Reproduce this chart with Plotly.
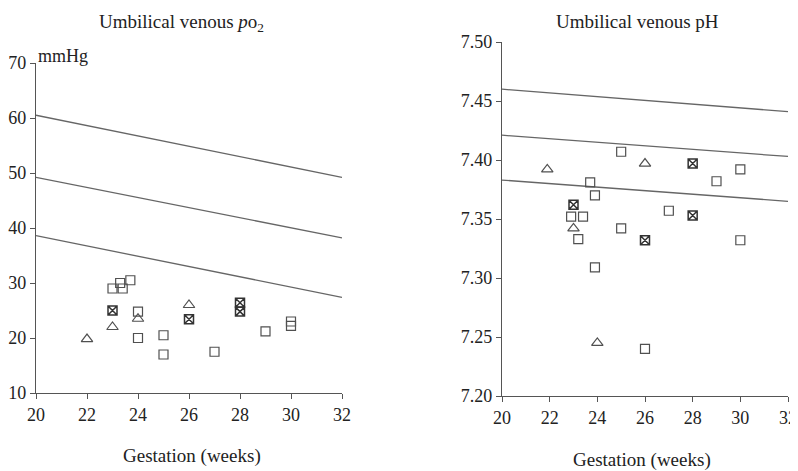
import plotly.graph_objects as go

# ---- data ----
ref_x = [20, 32]
po2_upper = [60.5, 49.2]
po2_mid = [49.2, 38.2]
po2_low = [38.6, 27.4]

ph_upper = [7.460, 7.441]
ph_mid = [7.421, 7.403]
ph_low = [7.383, 7.365]

po2_sq_x = [23.0, 23.3, 23.4, 23.7, 24.0, 24.0, 25.0, 25.0, 27.0, 29.0, 30.0, 30.0]
po2_sq_y = [29.0, 30.0, 29.0, 30.5, 24.8, 20.0, 20.5, 17.0, 17.5, 21.2, 22.2, 23.0]
po2_tri_x = [22.0, 23.0, 24.0, 26.0]
po2_tri_y = [19.8, 22.0, 23.5, 26.0]
po2_cx_x = [23.0, 26.0, 28.0, 28.0]
po2_cx_y = [25.0, 23.4, 26.4, 24.8]

ph_sq_x = [25.0, 30.0, 29.0, 23.7, 23.9, 22.9, 23.4, 23.2, 25.0, 27.0, 30.0, 23.9, 26.0]
ph_sq_y = [7.407, 7.392, 7.382, 7.381, 7.370, 7.352, 7.352, 7.333, 7.342, 7.357, 7.332, 7.309, 7.240]
ph_tri_x = [21.9, 26.0, 23.0, 24.0]
ph_tri_y = [7.392, 7.397, 7.342, 7.245]
ph_cx_x = [28.0, 23.0, 28.0, 26.0]
ph_cx_y = [7.397, 7.362, 7.353, 7.332]

x_ticks = [20, 22, 24, 26, 28, 30, 32]
po2_ticks = [10, 20, 30, 40, 50, 60, 70]
ph_ticks = [7.20, 7.25, 7.30, 7.35, 7.40, 7.45, 7.50]

# ---- styles / layout geometry ----
PAGE_OFF = 8              # default body margin of the html page
W, H = 798 - PAGE_OFF, 471 - PAGE_OFF
LINE_COL = "#666666"
MK_COL = "#505050"
AX_COL = "#555555"
TXT = "#222222"
FONT = "Liberation Serif"


def fx(px):
    return (px - PAGE_OFF) / W


def fy(py):
    return 1 - (py - PAGE_OFF) / H


fig = go.Figure()


def add_panel(xa, ya, lines, sq, tri, cx):
    for ly in lines:
        fig.add_trace(go.Scatter(x=ref_x, y=ly, mode="lines",
                                 line=dict(color=LINE_COL, width=1.3),
                                 xaxis=xa, yaxis=ya, showlegend=False, hoverinfo="skip"))
    fig.add_trace(go.Scatter(x=sq[0], y=sq[1], mode="markers",
                             marker=dict(symbol="square-open", size=9, color=MK_COL,
                                         line=dict(width=1.2, color=MK_COL)),
                             xaxis=xa, yaxis=ya, showlegend=False))
    fig.add_trace(go.Scatter(x=tri[0], y=tri[1], mode="markers",
                             marker=dict(symbol="triangle-up-open", size=10, color=MK_COL,
                                         line=dict(width=1.2, color=MK_COL)),
                             xaxis=xa, yaxis=ya, showlegend=False))
    fig.add_trace(go.Scatter(x=cx[0], y=cx[1], mode="markers",
                             marker=dict(symbol="square-x-open", size=9, color="#333333",
                                         line=dict(width=1.5, color="#333333")),
                             xaxis=xa, yaxis=ya, showlegend=False))


add_panel("x", "y", [po2_upper, po2_mid, po2_low],
          (po2_sq_x, po2_sq_y), (po2_tri_x, po2_tri_y), (po2_cx_x, po2_cx_y))
add_panel("x2", "y2", [ph_upper, ph_mid, ph_low],
          (ph_sq_x, ph_sq_y), (ph_tri_x, ph_tri_y), (ph_cx_x, ph_cx_y))

axis_common = dict(showgrid=False, zeroline=False, showline=True, linecolor=AX_COL,
                   linewidth=1.3, ticks="outside", ticklen=5, tickcolor=AX_COL,
                   automargin=False,
                   tickfont=dict(family=FONT, size=18, color=TXT))


def ann(text, px, py, size, xanchor="center", yanchor="middle"):
    return dict(text=text, x=fx(px), y=fy(py), xref="paper", yref="paper",
                showarrow=False, xanchor=xanchor, yanchor=yanchor,
                font=dict(family=FONT, size=size, color=TXT))


fig.update_layout(
    width=W, height=H,
    margin=dict(l=0, r=0, t=0, b=0, autoexpand=False),
    paper_bgcolor="white", plot_bgcolor="white",
    font=dict(family=FONT, color=TXT),
    xaxis=dict(domain=[fx(36), fx(342)], range=[20, 32], tickvals=x_ticks,
               anchor="y", **axis_common),
    yaxis=dict(domain=[fy(393), fy(63)], range=[10, 70], tickvals=po2_ticks,
               anchor="x", **axis_common),
    xaxis2=dict(domain=[fx(502), fx(788)], range=[20, 32], tickvals=x_ticks,
                anchor="y2", **axis_common),
    yaxis2=dict(domain=[fy(396), fy(42)], range=[7.20, 7.50], tickvals=ph_ticks,
                tickformat=".2f", anchor="x2", **axis_common),
    annotations=[
        ann("Umbilical venous <i>p</i>o<sub>2</sub>", 181, 9, 19, yanchor="top"),
        ann("Umbilical venous pH", 637, 9, 19, yanchor="top"),
        ann("mmHg", 36, 56, 18, xanchor="left"),
        ann("Gestation (weeks)", 192, 456, 19),
        ann("Gestation (weeks)", 642, 460, 19),
    ],
)

fig.write_html("out.html")
